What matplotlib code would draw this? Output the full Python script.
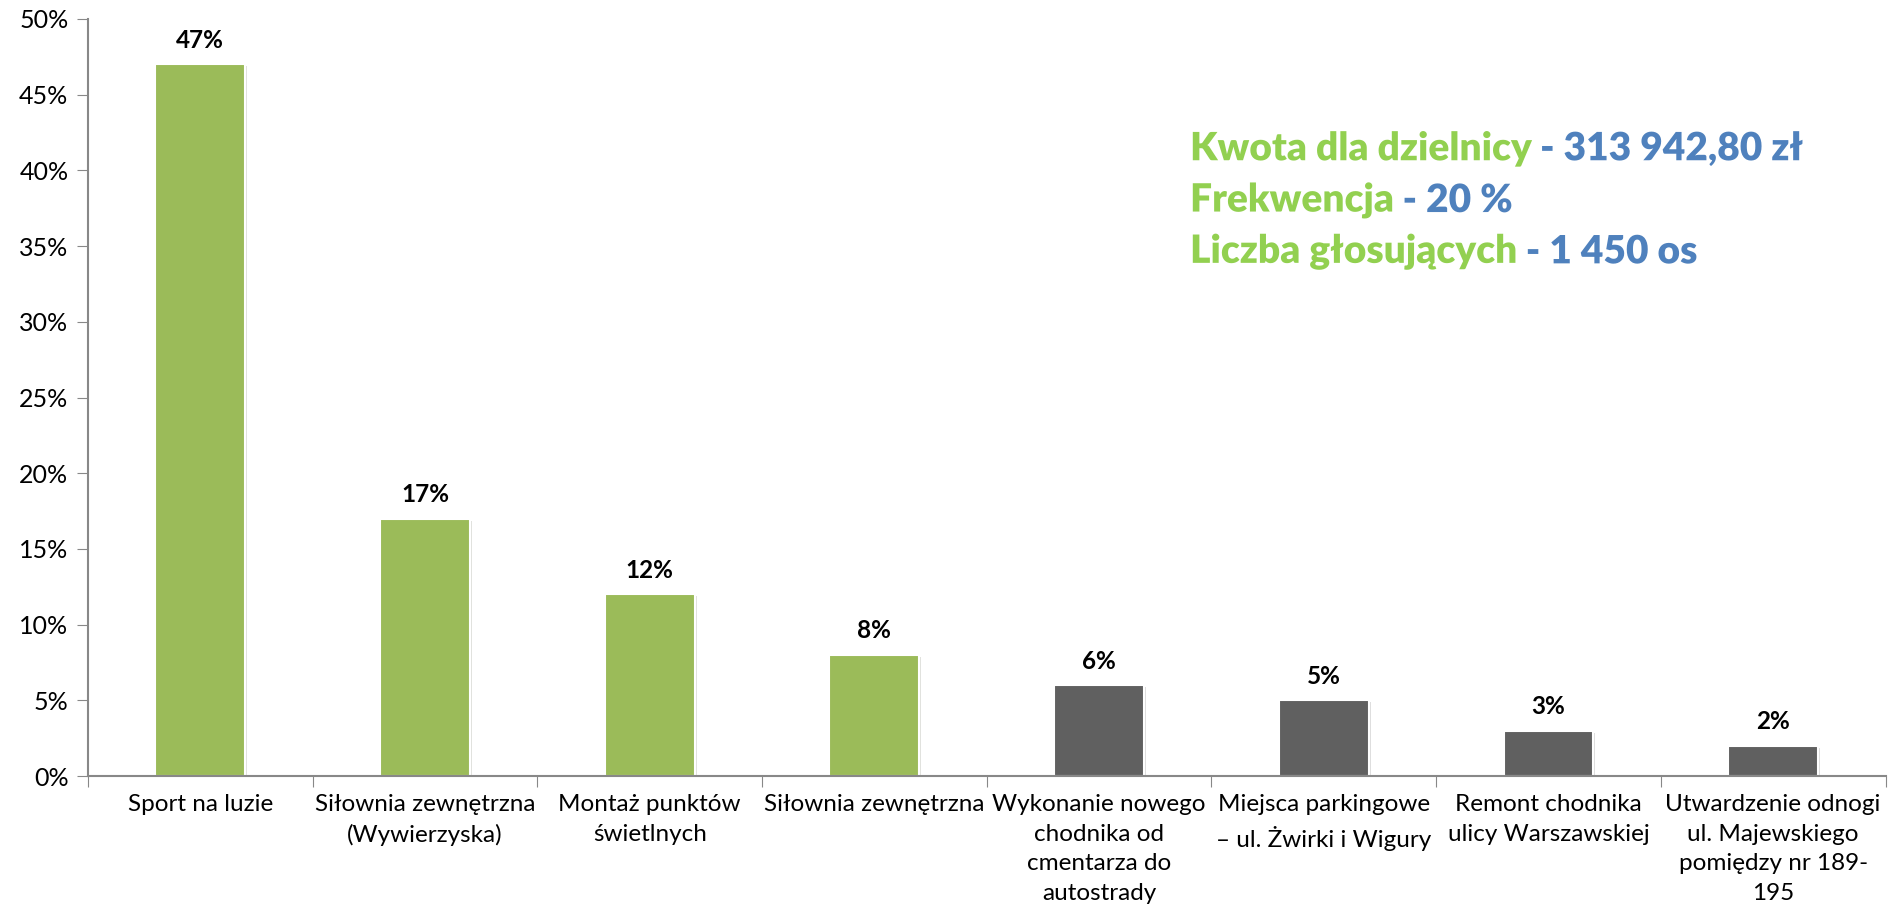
import matplotlib.pyplot as plt
import matplotlib.patheffects as pe
from matplotlib.ticker import MultipleLocator, PercentFormatter

categories = ["Sport na luzie",
              "Siłownia zewnętrzna\n(Wywierzyska)",
              "Montaż punktów\nświetlnych",
              "Siłownia zewnętrzna",
              "Wykonanie nowego\nchodnika od\ncmentarza do\nautostrady",
              "Miejsca parkingowe\n– ul. Żwirki i Wigury",
              "Remont chodnika\nulicy Warszawskiej",
              "Utwardzenie odnogi\nul. Majewskiego\npomiędzy nr 189-\n195"]
values = [47, 17, 12, 8, 6, 5, 3, 2]
winners = [True, True, True, True, False, False, False, False]

info_labels = ["Kwota dla dzielnicy", "Frekwencja", "Liczba głosujących"]
info_values = [" - 313 942,80 zł", " - 20 %", " - 1 450 os"]

plt.rcParams['font.family'] = ['Lato', 'DejaVu Sans']

fig = plt.figure(figsize=(18.95, 9.21), dpi=100)
ax = fig.add_axes([0.0464, 0.1574, 0.9486, 0.822])

colors = ['#9BBB59' if w else '#606060' for w in winners]
x = range(len(values))
shadow = [pe.SimplePatchShadow(offset=(1.5, -1.5), alpha=0.15), pe.Normal()]
bars = ax.bar(x, values, width=0.4, color=colors, edgecolor='white', linewidth=1.5,
              path_effects=shadow, zorder=2)

for b, v in zip(bars, values):
    ax.annotate(f"{v}%", (b.get_x() + b.get_width() / 2, v), xytext=(0, 9),
                textcoords='offset points', ha='center', va='bottom',
                fontsize=17.5, fontweight='bold')

ax.set_xlim(-0.5, 7.5)
ax.set_ylim(0, 50)
ax.yaxis.set_major_locator(MultipleLocator(5))
ax.yaxis.set_major_formatter(PercentFormatter(decimals=0))

# ticks at category boundaries, labels centred under the bars
ax.set_xticks([i - 0.5 for i in range(len(values) + 1)])
ax.set_xticklabels([])
ax.set_xticks(list(x), minor=True)
ax.set_xticklabels(categories, minor=True, fontsize=17.5, linespacing=1.5)
ax.tick_params(axis='x', which='minor', length=0, pad=13)
ax.tick_params(axis='x', which='major', length=8, color='#888888', direction='out')
ax.tick_params(axis='y', length=8, color='#888888', labelsize=18, pad=6)

for s in ['top', 'right']:
    ax.spines[s].set_visible(False)
for s in ['left', 'bottom']:
    ax.spines[s].set_color('#888888')
    ax.spines[s].set_linewidth(1.5)

# info box with turnout data
txt_fx = [pe.SimpleLineShadow(offset=(2, -2), alpha=0.3), pe.Normal()]
y0 = 0.826
for i, (lab, val) in enumerate(zip(info_labels, info_values)):
    t = fig.text(0.628, y0 - i * 0.0557, lab, fontsize=28, fontweight='heavy',
                 color='#92D050', path_effects=txt_fx, va='baseline')
    ax.annotate(val, xy=(1, 0), xycoords=t, fontsize=28, fontweight='heavy',
                color='#4F81BD', va='bottom', ha='left', path_effects=txt_fx)

fig.savefig("out.png", dpi=100)
